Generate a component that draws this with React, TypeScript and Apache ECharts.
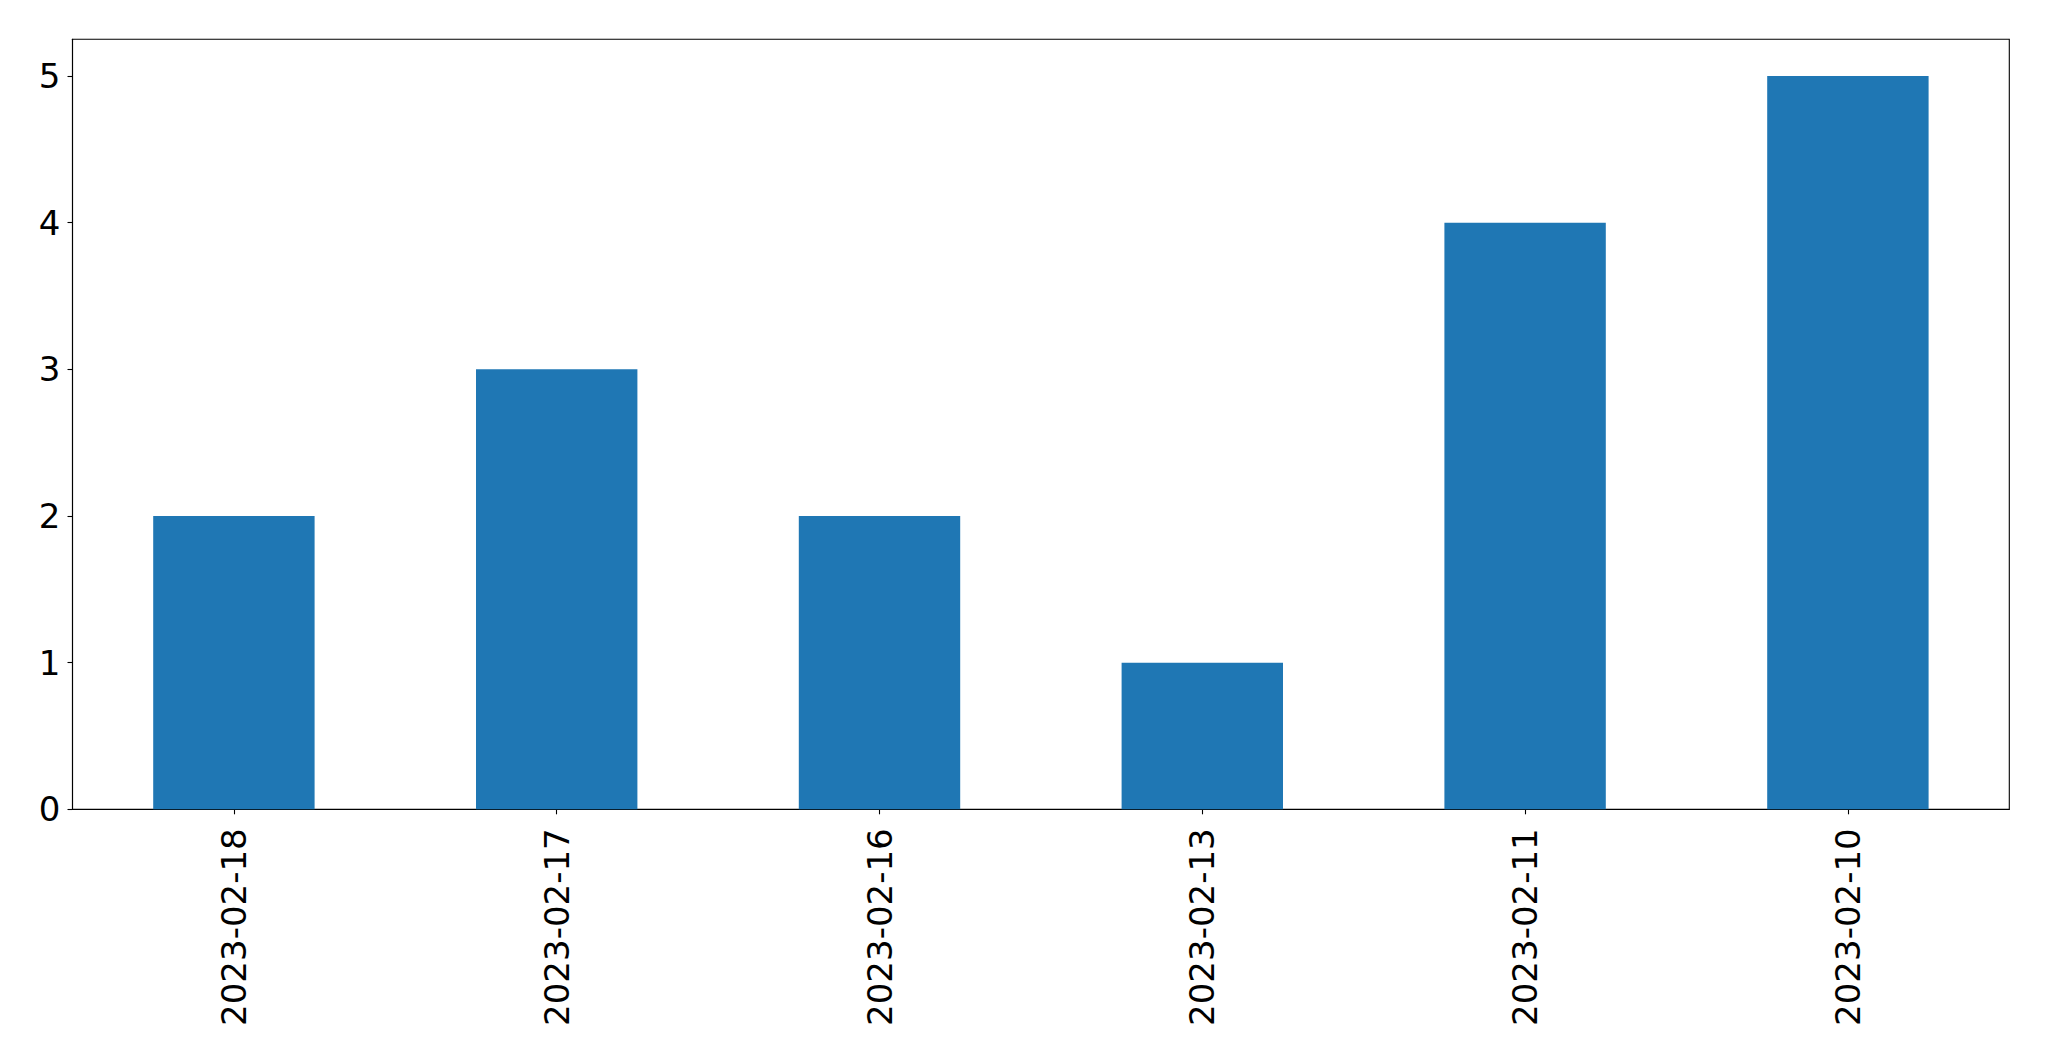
import React, { useEffect, useRef } from "react";
import * as echarts from "echarts";

const categories = ["2023-02-18", "2023-02-17", "2023-02-16", "2023-02-13", "2023-02-11", "2023-02-10"];
const counts = [2, 3, 2, 1, 4, 5];
const yTicks = [0, 1, 2, 3, 4, 5];

export default function App() {
  const ref = useRef<HTMLDivElement>(null);
  useEffect(() => {
    if (!ref.current) return;
    const chart = echarts.init(ref.current, null, { renderer: "svg" });
    chart.setOption({
      animation: false,
      backgroundColor: "#ffffff",
      grid: {
        left: 72.5,
        right: 39.7,
        top: 39.3,
        bottom: 251.7,
        show: true,
        borderColor: "#000000",
        borderWidth: 1.1,
        backgroundColor: "transparent",
      },
      xAxis: {
        type: "category",
        data: categories,
        axisLine: { show: true, lineStyle: { color: "#000", width: 1.1 } },
        axisTick: { show: true, alignWithLabel: true, length: 5, lineStyle: { color: "#000", width: 1.1 } },
        axisLabel: {
          rotate: 90,
          margin: 19,
          color: "#000",
          fontSize: 34,
          fontFamily: "DejaVu Sans",
          interval: 0,
        },
        splitLine: { show: false },
      },
      yAxis: {
        type: "value",
        min: 0,
        max: 5.25,
        interval: 1,
        axisLine: { show: true, lineStyle: { color: "#000", width: 1.1 } },
        axisTick: { show: true, length: 5, customValues: yTicks, lineStyle: { color: "#000", width: 1.1 } },
        axisLabel: {
          customValues: yTicks,
          margin: 12,
          color: "#000",
          fontSize: 34,
          fontFamily: "DejaVu Sans",
        },
        splitLine: { show: false },
      },
      series: [
        {
          type: "bar",
          data: counts,
          barWidth: "50%",
          itemStyle: { color: "#1f77b4" },
        },
      ],
    });
    return () => chart.dispose();
  }, []);
  return (
    <div
      ref={ref}
      style={{ position: "fixed", left: 0, top: 0, width: 2049, height: 1061, background: "#fff" }}
    />
  );
}
